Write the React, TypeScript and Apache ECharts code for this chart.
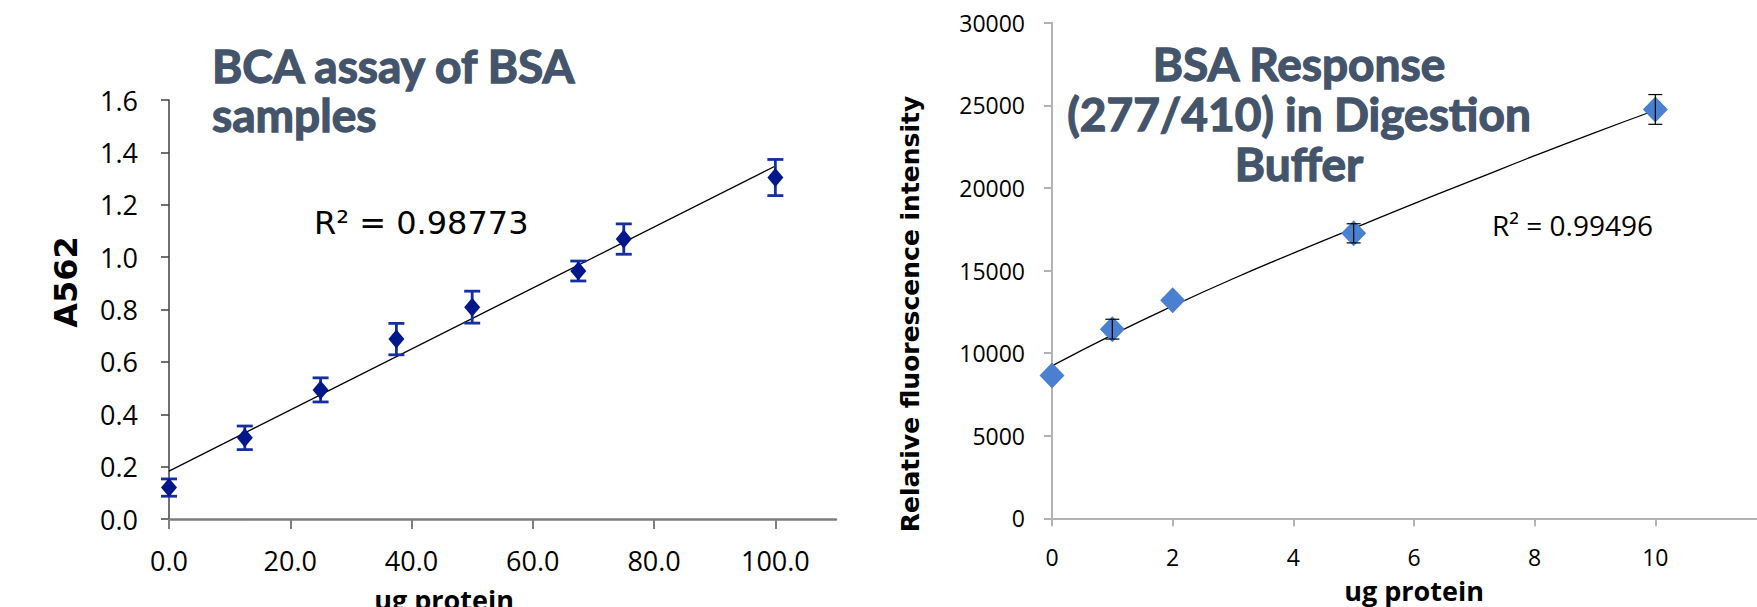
import React, { useEffect, useRef } from "react";
import * as echarts from "echarts";

// ---------- Left chart data (BCA assay) ----------
const leftX = [0, 12.5, 25, 37.5, 50, 67.5, 75, 100];
const leftY = [0.12, 0.31, 0.493, 0.687, 0.809, 0.947, 1.069, 1.304];
const leftErr = [0.033, 0.045, 0.046, 0.06, 0.061, 0.038, 0.058, 0.069];
const leftTrendX = [0, 100];
const leftTrendY = [0.183, 1.348];
const leftXTicks = [0, 20, 40, 60, 80, 100];

// ---------- Right chart data (BSA response) ----------
const rightX = [0, 1, 2, 5, 10];
const rightY = [8650, 11450, 13200, 17250, 24750];
const rightErr = [0, 600, 0, 580, 900];
const rightTrendX = [0, 1, 2, 3, 4, 5, 6, 7, 8, 9, 10];
const rightTrendY = [9225, 11100, 12850, 14500, 16050, 17550, 19050, 20500, 21950, 23350, 24700];
const rightXTicks = [0, 2, 4, 6, 8, 10];

const leftTitleLines = ["BCA assay of BSA", "samples"];
const rightTitle = "BSA Response\n(277/410) in Digestion\nBuffer";
const leftR2 = "R² = 0.98773";
const rightR2 = "R² = 0.99496";
const leftYName = "A562";
const rightYName = "Relative fluorescence intensity";
const xName = "ug protein";

const TITLE_COLOR = "#44546a";

function errorRenderer(color: string, width: number, capHalf: number) {
  return (params: any, api: any) => {
    const x = api.value(0);
    const lo = api.value(1);
    const hi = api.value(2);
    if (hi === lo) return null;
    const pt = api.coord([x, hi]);
    const pb = api.coord([x, lo]);
    const style = { stroke: color, lineWidth: width };
    return {
      type: "group",
      children: [
        { type: "line", shape: { x1: pt[0], y1: pt[1], x2: pb[0], y2: pb[1] }, style },
        { type: "line", shape: { x1: pt[0] - capHalf, y1: pt[1], x2: pt[0] + capHalf, y2: pt[1] }, style },
        { type: "line", shape: { x1: pb[0] - capHalf, y1: pb[1], x2: pb[0] + capHalf, y2: pb[1] }, style },
      ],
    };
  };
}

function txt(x: number, y: number, text: string, o: any, rotation = 0) {
  const style: any = {
    text,
    fill: o.fill || "#000",
    fontSize: o.size,
    fontFamily: o.family,
    fontWeight: o.weight || "normal",
    lineHeight: o.lineHeight,
    align: o.align || "left",
    verticalAlign: o.valign || "middle",
    textAlign: o.align || "left",
    textVerticalAlign: o.valign || "middle",
  };
  if (o.stroke) {
    style.stroke = o.stroke;
    style.lineWidth = o.strokeWidth;
  }
  return { type: "text", x, y, rotation, silent: true, style };
}

export default function App() {
  const ref = useRef<HTMLDivElement>(null);

  useEffect(() => {
    if (!ref.current) return;
    const chart = echarts.init(ref.current, null, { renderer: "svg" });

    const tickFont = { fontFamily: "Open Sans", color: "#000" };
    const leftTitleStyle = {
      size: 46, family: "Lato", weight: "bold", fill: TITLE_COLOR, lineHeight: 46, valign: "middle",
      stroke: TITLE_COLOR, strokeWidth: 1.3,
    };

    const option: any = {
      animation: false,
      backgroundColor: "#ffffff",
      grid: [
        { left: 169, top: 100, width: 667, height: 419, outerBoundsMode: "none", containLabel: false },
        { left: 1052, top: 22.7, width: 724, height: 495.6, outerBoundsMode: "none", containLabel: false },
      ],
      xAxis: [
        {
          type: "value",
          gridIndex: 0,
          min: 0,
          max: 110,
          interval: 20,
          splitLine: { show: false },
          axisLine: { show: true, onZero: false, lineStyle: { color: "#7f7f7f", width: 2.5 } },
          axisTick: { show: true, length: 10, customValues: leftXTicks, lineStyle: { color: "#7f7f7f", width: 2 } },
          axisLabel: {
            ...tickFont,
            fontSize: 27,
            margin: 28,
            customValues: leftXTicks,
            formatter: (v: number) => v.toFixed(1),
          },
        },
        {
          type: "value",
          gridIndex: 1,
          min: 0,
          max: 12,
          interval: 2,
          splitLine: { show: false },
          axisLine: { show: true, onZero: false, lineStyle: { color: "#b3b3b3", width: 2 } },
          axisTick: { show: true, length: 8, customValues: rightXTicks, lineStyle: { color: "#b3b3b3", width: 2 } },
          axisLabel: { ...tickFont, fontSize: 23, margin: 27, customValues: rightXTicks, formatter: (v: number) => String(v) },
        },
      ],
      yAxis: [
        {
          type: "value",
          gridIndex: 0,
          min: 0,
          max: 1.6,
          interval: 0.2,
          splitLine: { show: false },
          axisLine: { show: true, onZero: false, lineStyle: { color: "#404040", width: 1.5 } },
          axisTick: { show: true, length: 8, lineStyle: { color: "#404040", width: 1.5 } },
          axisLabel: {
            ...tickFont,
            fontSize: 27,
            margin: 31,
            formatter: (v: number) => v.toFixed(1),
          },
        },
        {
          type: "value",
          gridIndex: 1,
          min: 0,
          max: 30000,
          interval: 5000,
          splitLine: { show: false },
          axisLine: { show: true, onZero: false, lineStyle: { color: "#b3b3b3", width: 2 } },
          axisTick: { show: true, length: 8, lineStyle: { color: "#b3b3b3", width: 2 } },
          axisLabel: { ...tickFont, fontSize: 23, margin: 27, formatter: (v: number) => String(v) },
        },
      ],
      series: [
        {
          type: "line",
          xAxisIndex: 0,
          yAxisIndex: 0,
          data: leftTrendX.map((x, i) => [x, leftTrendY[i]]),
          showSymbol: false,
          symbol: "none",
          lineStyle: { color: "#000", width: 1.3 },
          z: 2,
        },
        {
          type: "custom",
          xAxisIndex: 0,
          yAxisIndex: 0,
          data: leftX.map((x, i) => [x, leftY[i] - leftErr[i], leftY[i] + leftErr[i]]),
          encode: { x: 0, y: [1, 2] },
          renderItem: errorRenderer("#13309e", 2.8, 8),
          z: 3,
        },
        {
          type: "scatter",
          xAxisIndex: 0,
          yAxisIndex: 0,
          data: leftX.map((x, i) => [x, leftY[i]]),
          symbol: "diamond",
          symbolSize: [16, 19],
          itemStyle: { color: "#00178c", opacity: 1 },
          z: 4,
        },
        {
          type: "line",
          xAxisIndex: 1,
          yAxisIndex: 1,
          data: rightTrendX.map((x, i) => [x, rightTrendY[i]]),
          showSymbol: false,
          symbol: "none",
          smooth: true,
          lineStyle: { color: "#000", width: 1.3 },
          z: 2,
        },
        {
          type: "scatter",
          xAxisIndex: 1,
          yAxisIndex: 1,
          data: rightX.map((x, i) => [x, rightY[i]]),
          symbol: "diamond",
          symbolSize: [25, 26],
          itemStyle: { color: "#4a80cf", opacity: 1 },
          z: 3,
        },
        {
          type: "custom",
          xAxisIndex: 1,
          yAxisIndex: 1,
          data: rightX.map((x, i) => [x, rightY[i] - rightErr[i], rightY[i] + rightErr[i]]),
          encode: { x: 0, y: [1, 2] },
          renderItem: errorRenderer("#000", 1.2, 7),
          z: 4,
        },
      ],
      graphic: [
        txt(212, 65, leftTitleLines[0], leftTitleStyle),
        txt(212, 114, leftTitleLines[1], leftTitleStyle),
        txt(1299, 38, rightTitle, {
          size: 46, family: "Lato", weight: "bold", fill: TITLE_COLOR, lineHeight: 50, valign: "top", align: "center",
          stroke: TITLE_COLOR, strokeWidth: 1.3,
        }),
        txt(314, 223, leftR2, { size: 32, family: "DejaVu Sans" }),
        txt(1492, 225, rightR2, { size: 28, family: "Open Sans" }),
        txt(66, 282, leftYName, { size: 32, family: "DejaVu Sans", weight: "bold", align: "center" }, Math.PI / 2),
        txt(910, 314, rightYName, { size: 25, family: "DejaVu Sans", weight: "bold", align: "center" }, Math.PI / 2),
        txt(444, 613, xName, { size: 27, family: "Open Sans", weight: "bold", align: "center", valign: "bottom" }),
        txt(1414, 604, xName, { size: 27, family: "Open Sans", weight: "bold", align: "center", valign: "bottom" }),
      ],
    };

    chart.setOption(option);
    return () => chart.dispose();
  }, []);

  return (
    <div
      ref={ref}
      style={{ position: "fixed", left: 0, top: 0, width: 1757, height: 607, background: "#fff" }}
    />
  );
}
